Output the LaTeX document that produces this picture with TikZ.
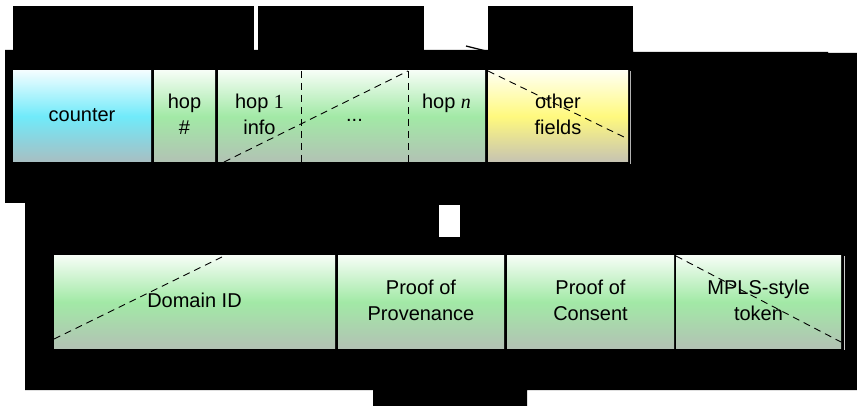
\documentclass[tikz,border=0pt]{standalone}
\usepackage{fontspec}
\setmainfont{Liberation Sans}
\newfontfamily\tnr{Liberation Serif}
\usetikzlibrary{calc}
\definecolor{cyantop}{HTML}{F2FDFF}
\definecolor{cyanmid}{HTML}{70EAFA}
\definecolor{cyanbot}{HTML}{A8BEC2}
\definecolor{greentop}{HTML}{F5FDF5}
\definecolor{greenmid}{HTML}{A2E9A6}
\definecolor{greenbot}{HTML}{B2C2B4}
\definecolor{yeltop}{HTML}{FFFFF2}
\definecolor{yelmid}{HTML}{FFF97E}
\definecolor{yelbot}{HTML}{C6C3B2}
\begin{document}
\begin{tikzpicture}[x=1pt,y=-1pt,
  cell/.style={rectangle, inner sep=0pt, outer sep=0pt, anchor=north west,
    align=center, font=\fontsize{20}{26}\selectfont, text=black},
  cyancell/.style={cell, top color=cyantop, bottom color=cyanbot, middle color=cyanmid},
  greencell/.style={cell, top color=greentop, bottom color=greenbot, middle color=greenmid},
  yelcell/.style={cell, top color=yeltop, bottom color=yelbot, middle color=yelmid},
  toprow/.style={minimum height=91pt},
  botrow/.style={minimum height=92pt},
  dashln/.style={draw=black, line width=0.9pt, dash pattern=on 7pt off 5pt}
]
\useasboundingbox (0,0) rectangle (857,406);
\fill[white] (0,0) rectangle (857,406);
% black areas
\fill[black] (13,6) rectangle (254,50);
\fill[black] (258,6) rectangle (424,50);
\fill[black] (488,6) rectangle (633,52);
\fill[black] (5,50) -- (633,50) -- (633,52) -- (828,52) -- (828,53) -- (857,53)
  -- (857,390) -- (527,390) -- (527,406) -- (373,406) -- (373,390)
  -- (25,390) -- (25,203) -- (5,203) -- cycle;
\fill[white] (439,205) rectangle (460,237);
\draw[black, line width=1.3pt] (466,46) -- (486,51);
% top row
\node[cyancell, toprow, minimum width=138pt] (counter) at (13,71) {\strut counter};
\node[greencell, toprow, minimum width=61pt] (hopnum) at (154,71) {\strut hop\\\strut\#};
\node[greencell, toprow, minimum width=83pt] (hop1) at (218,71) {\strut hop {\tnr 1}\\\strut info};
\node[greencell, toprow, minimum width=107pt] (dots) at (301,71) {\strut ...};
\node[greencell, toprow, minimum width=77pt] (hopn) at (408,71) {\strut hop {\tnr\itshape n}\\\strut};
\node[yelcell, toprow, minimum width=140pt] (other) at (488,71) {\strut other\\\strut fields};
\draw[dashln] (hop1.north east) -- (hop1.south east);
\draw[dashln] (dots.north east) -- (dots.south east);
\draw[dashln] ($(hop1.south west)+(6,0)$) -- (hopn.north west);
\draw[dashln] (other.north west) -- ($(other.south east)+(0,-23)$);
\draw[gray!60, line width=0.7pt] ($(other.north east)+(2,0)$) -- ($(other.south east)+(2,2)$);
% bottom row
\node[greencell, botrow, minimum width=281pt] (dom) at (54,256) {\strut Domain ID};
\node[greencell, botrow, minimum width=166pt] (prov) at (338,256) {\strut Proof of\\\strut Provenance};
\node[greencell, botrow, minimum width=167pt] (cons) at (507,256) {\strut Proof of\\\strut Consent};
\node[greencell, botrow, minimum width=165pt] (mpls) at (676,256) {\strut MPLS-style\\\strut token};
\draw[dashln] ($(dom.south west)+(0,-9)$) -- ($(dom.north west)+(170,0)$);
\draw[dashln] (mpls.north west) -- ($(mpls.south east)+(0,-6)$);
\draw[gray!40, line width=1pt] ($(mpls.north east)+(3,0)$) -- ($(mpls.south east)+(3,2)$);
\end{tikzpicture}
\end{document}
